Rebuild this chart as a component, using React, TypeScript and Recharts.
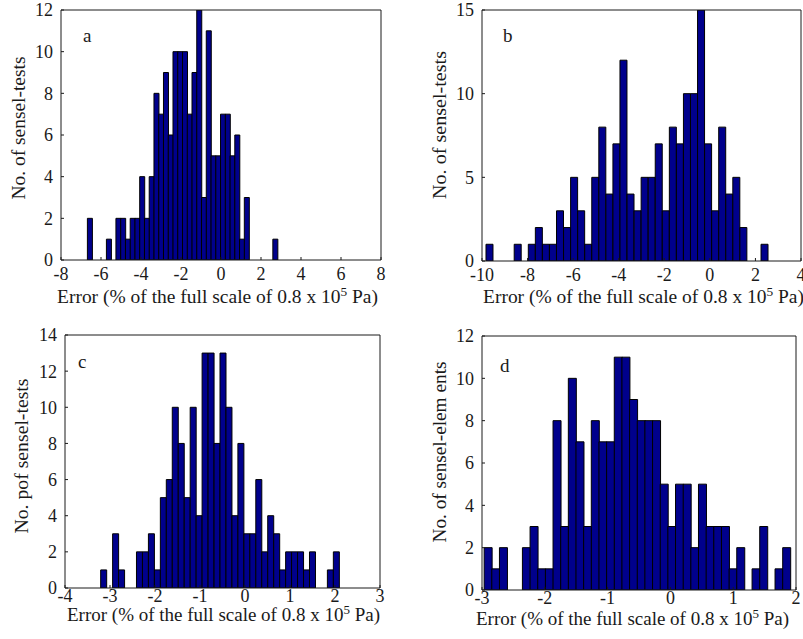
import React from 'react';
import { BarChart, Bar, XAxis, YAxis, Label } from 'recharts';

// histogram counts, 40 bins each
const countsA = [2, 0, 0, 0, 1, 0, 2, 2, 1, 2, 2, 4, 2, 4, 8, 7, 9, 6, 10, 10, 10, 7, 9, 12, 3, 11, 5, 5, 7, 7, 5, 6, 1, 3, 0, 0, 0, 0, 0, 1];
const countsB = [1, 0, 0, 0, 1, 0, 1, 2, 1, 1, 3, 2, 5, 3, 1, 5, 8, 4, 7, 12, 4, 3, 5, 5, 7, 3, 8, 7, 10, 10, 15, 7, 3, 8, 4, 5, 2, 0, 0, 1];
const countsC = [1, 0, 3, 1, 0, 0, 2, 2, 3, 1, 5, 6, 10, 8, 5, 10, 4, 13, 13, 8, 13, 10, 4, 8, 3, 3, 6, 2, 4, 3, 1, 2, 2, 2, 1, 2, 0, 0, 1, 2];
const countsD = [2, 1, 2, 0, 0, 2, 3, 1, 1, 8, 3, 10, 7, 3, 8, 7, 7, 11, 11, 9, 8, 8, 8, 5, 3, 5, 5, 2, 5, 3, 3, 3, 1, 2, 0, 1, 3, 0, 1, 2];

// outer edges of the binned range (min, max of the errors)
const rangeA = [-6.68, 2.83];
const rangeB = [-9.825, 2.555];
const rangeC = [-3.207, 2.096];
const rangeD = [-2.966, 1.91];

const xTicksA = [-8, -6, -4, -2, 0, 2, 4, 6, 8];
const xTicksB = [-10, -8, -6, -4, -2, 0, 2, 4];
const xTicksC = [-4, -3, -2, -1, 0, 1, 2, 3];
const xTicksD = [-3, -2, -1, 0, 1, 2];

const yTicksA = [0, 2, 4, 6, 8, 10, 12];
const yTicksB = [0, 5, 10, 15];
const yTicksC = [0, 2, 4, 6, 8, 10, 12, 14];
const yTicksD = [0, 2, 4, 6, 8, 10, 12];

const yTitleA = 'No. of sensel-tests';
const yTitleB = 'No. of sensel-tests';
const yTitleC = 'No. pof sensel-tests';
const yTitleD = 'No. of sensel-elem ents';

const FONT = '"Liberation Serif", "Times New Roman", serif';
const INK = '#1a1a1a';
const BAR_FILL = '#00008c';

function binRows(counts: number[], range: number[]) {
  const w = (range[1] - range[0]) / counts.length;
  return counts.map((n, i) => ({ x: range[0] + (i + 0.5) * w, n }));
}

interface PanelSpec {
  letter: string;
  counts: number[];
  range: number[];
  xTicks: number[];
  yTicks: number[];
  yTitle: string;
  left: number;
  top: number;
  width: number;
  height: number;
  margin: { top: number; right: number; bottom: number; left: number };
  xTickGap: number;
  xTitle: [number, number, number];
  yTitle2: [number, number, number];
  letterAt: [number, number];
}

const panels: PanelSpec[] = [
  {
    letter: 'a', counts: countsA, range: rangeA, xTicks: xTicksA, yTicks: yTicksA, yTitle: yTitleA,
    left: 0, top: 0, width: 400, height: 320,
    margin: { top: 9, right: 18, bottom: 30, left: 11 }, xTickGap: 10,
    xTitle: [57, 303, 321], yTitle2: [25, 128, 143], letterAt: [83, 42],
  },
  {
    letter: 'b', counts: countsB, range: rangeB, xTicks: xTicksB, yTicks: yTicksB, yTitle: yTitleB,
    left: 400, top: 0, width: 403, height: 320,
    margin: { top: 9, right: 1, bottom: 29, left: 32 }, xTickGap: 10,
    xTitle: [83, 303, 321], yTitle2: [46, 125, 148], letterAt: [103, 42],
  },
  {
    letter: 'c', counts: countsC, range: rangeC, xTicks: xTicksC, yTicks: yTicksC, yTitle: yTitleC,
    left: 0, top: 320, width: 400, height: 319,
    margin: { top: 14, right: 19, bottom: 21, left: 15 }, xTickGap: 4,
    xTitle: [67, 301, 313], yTitle2: [28, 136, 155], letterAt: [78, 48],
  },
  {
    letter: 'd', counts: countsD, range: rangeD, xTicks: xTicksD, yTicks: yTicksD, yTitle: yTitleD,
    left: 400, top: 320, width: 403, height: 319,
    margin: { top: 15, right: 6, bottom: 19, left: 32 }, xTickGap: 4,
    xTitle: [76, 305, 313], yTitle2: [46, 132, 181], letterAt: [100, 52],
  },
];

const axisStroke = { stroke: INK, strokeWidth: 1 };
const tickStyle = { fontSize: 18, fill: INK, fontFamily: FONT };

function XTitle({ at }: { at: [number, number, number] }) {
  const [x, y, len] = at;
  return (
    <text x={x} y={y} fontSize={19} fontFamily={FONT} fill={INK} textLength={len} lengthAdjust="spacingAndGlyphs">
      Error (% of the full scale of 0.8 x 10
      <tspan dy={-7} fontSize={13}>5</tspan>
      <tspan dy={7}> Pa)</tspan>
    </text>
  );
}

function YTitle({ at, text }: { at: [number, number, number]; text: string }) {
  const [x, y, len] = at;
  return (
    <text
      x={x}
      y={y}
      transform={`rotate(-90 ${x} ${y})`}
      textAnchor="middle"
      fontSize={19}
      fontFamily={FONT}
      fill={INK}
      textLength={len}
      lengthAdjust="spacingAndGlyphs"
    >
      {text}
    </text>
  );
}

function HistPanel({ p }: { p: PanelSpec }) {
  const data = binRows(p.counts, p.range);
  const xDomain = [p.xTicks[0], p.xTicks[p.xTicks.length - 1]];
  const yDomain = [0, p.yTicks[p.yTicks.length - 1]];
  return (
    <div style={{ position: 'absolute', left: p.left, top: p.top }}>
      <BarChart width={p.width} height={p.height} data={data} margin={p.margin} barCategoryGap={0} barGap={0}>
        <XAxis
          dataKey="x"
          type="number"
          domain={xDomain}
          ticks={p.xTicks}
          interval={0}
          allowDataOverflow
          height={30}
          tickSize={-3}
          tickMargin={p.xTickGap}
          axisLine={axisStroke}
          tickLine={axisStroke}
          tick={tickStyle}
        >
          <Label content={() => <XTitle at={p.xTitle} />} />
        </XAxis>
        {/* top edge of the box, inward ticks only */}
        <XAxis
          xAxisId="top"
          orientation="top"
          type="number"
          domain={xDomain}
          ticks={p.xTicks}
          interval={0}
          allowDataOverflow
          height={1}
          tickSize={-3}
          axisLine={axisStroke}
          tickLine={axisStroke}
          tick={false}
        >
          <Label
            content={() => (
              <text x={p.letterAt[0]} y={p.letterAt[1]} fontSize={19} fontFamily={FONT} fill={INK}>
                {p.letter}
              </text>
            )}
          />
        </XAxis>
        <YAxis
          type="number"
          domain={yDomain}
          ticks={p.yTicks}
          interval={0}
          allowDataOverflow
          width={50}
          tickSize={-3}
          tickMargin={11}
          axisLine={axisStroke}
          tickLine={axisStroke}
          tick={tickStyle}
        >
          <Label content={() => <YTitle at={p.yTitle2} text={p.yTitle} />} />
        </YAxis>
        {/* right edge of the box */}
        <YAxis
          yAxisId="right"
          orientation="right"
          type="number"
          domain={yDomain}
          ticks={p.yTicks}
          interval={0}
          allowDataOverflow
          width={1}
          tickSize={-3}
          axisLine={axisStroke}
          tickLine={axisStroke}
          tick={false}
        />
        <Bar dataKey="n" fill={BAR_FILL} stroke="#000" strokeWidth={1} isAnimationActive={false} />
      </BarChart>
    </div>
  );
}

export default function App() {
  return (
    <div style={{ position: 'absolute', left: 0, top: 0, width: 803, height: 639, overflow: 'hidden', background: '#fff' }}>
      {panels.map((p) => (
        <HistPanel key={p.letter} p={p} />
      ))}
    </div>
  );
}
